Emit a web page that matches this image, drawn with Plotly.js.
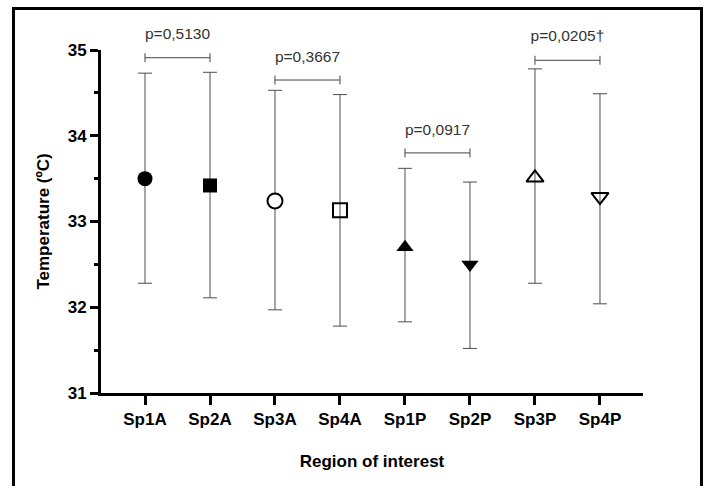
<!DOCTYPE html>
<html>
<head>
<meta charset="utf-8">
<script src="https://cdn.plot.ly/plotly-3.0.1.min.js"></script>
<style>
  html, body { margin: 0; padding: 0; background: #fff; }
  #wrap { position: relative; width: 705px; height: 486px; overflow: hidden; }
  #chart { position: absolute; left: 0; top: 0; width: 705px; height: 486px; }
  #frame { position: absolute; left: 12px; top: 7px; width: 685px; height: 520px;
           border: 3px solid #000; pointer-events: none; box-sizing: content-box; }
</style>
</head>
<body>
<div id="wrap">
  <div id="chart"></div>
  <div id="frame"></div>
</div>
<script>
// ---- data ----
const categories = ['Sp1A', 'Sp2A', 'Sp3A', 'Sp4A', 'Sp1P', 'Sp2P', 'Sp3P', 'Sp4P'];
const means      = [33.50, 33.42, 33.24, 33.13, 32.70, 32.50, 33.51, 33.29];
const upperLimit = [34.73, 34.74, 34.53, 34.48, 33.62, 33.46, 34.78, 34.49];
const lowerLimit = [32.28, 32.11, 31.97, 31.78, 31.83, 31.52, 32.28, 32.04];

// comparisons (pairs of category indices), bracket levels and p-value labels
const compFrom   = [0, 2, 4, 6];
const compTo     = [1, 3, 5, 7];
const compLevel  = [34.91, 34.65, 33.80, 34.88];
const compTextY  = [35.17, 34.91, 34.05, 35.15];
const compLabels = ['p=0,5130', 'p=0,3667', 'p=0,0917', 'p=0,0205†'];

const yTicks = [31, 32, 33, 34, 35];
const yMin = 31, yMax = 35;

// ---- layout geometry ----
const W = 705, H = 486;
const M = { l: 101, r: 62, t: 20, b: 93 };
const axisTopPx = 50;                       // pixel row of the top of the value axis
const plotH = H - M.t - M.b;                // full subplot height
const axisH = H - M.b - axisTopPx;          // height of the visible value axis
const domTop = axisH / plotH;
const y2Max = yMin + (yMax - yMin) / domTop; // same scale, extended upward for labels

// ---- styles ----
const symbols   = ['circle', 'square', 'circle', 'square-open', 'triangle-up', 'triangle-down', 'triangle-up-open', 'triangle-down-open'];
const fills     = ['#000', '#000', '#fff', '#000', '#000', '#000', '#000', '#000'];
const sizes     = [15, 14, 15, 14, 15, 15, 15, 15];
const lineWs    = [0, 0, 2, 2, 0, 0, 2, 2];

const xIdx = categories.map((c, i) => i);
const txtFont = { family: 'Liberation Sans, Arial, sans-serif', size: 15.5, color: '#333' };

const pointsTrace = {
  type: 'scatter', mode: 'markers', cliponaxis: false,
  x: xIdx, y: means, xaxis: 'x', yaxis: 'y',
  marker: { symbol: symbols, color: fills, size: sizes, opacity: 1, line: { color: '#000', width: lineWs } },
  error_y: {
    type: 'data', symmetric: false,
    array: means.map((m, i) => upperLimit[i] - m),
    arrayminus: means.map((m, i) => m - lowerLimit[i]),
    color: '#4d4d4d', thickness: 1, width: 7
  },
  hoverinfo: 'skip', showlegend: false
};

const bracketTrace = {
  type: 'scatter', mode: 'markers', cliponaxis: false,
  x: compFrom.map((a, i) => (a + compTo[i]) / 2),
  y: compLevel, xaxis: 'x', yaxis: 'y2',
  marker: { size: 1, color: 'rgba(0,0,0,0)' },
  error_x: {
    type: 'data', symmetric: true,
    array: compFrom.map((a, i) => (compTo[i] - a) / 2),
    color: '#444', thickness: 1, width: 4.5
  },
  hoverinfo: 'skip', showlegend: false
};

const labelTrace = {
  type: 'scatter', mode: 'text', cliponaxis: false,
  x: compFrom.map((a, i) => (a + compTo[i]) / 2),
  y: compTextY, xaxis: 'x', yaxis: 'y2',
  text: compLabels, textposition: 'middle center', textfont: txtFont,
  hoverinfo: 'skip', showlegend: false
};

const boldFont = { family: 'Liberation Sans, Arial, sans-serif', size: 17, color: '#000', weight: 'bold' };

const layout = {
  width: W, height: H,
  margin: M,
  paper_bgcolor: 'rgba(0,0,0,0)', plot_bgcolor: 'rgba(0,0,0,0)',
  showlegend: false,
  xaxis: {
    range: [-0.677, 7.662], tickmode: 'array', tickvals: xIdx, ticktext: categories,
    anchor: 'y',
    showline: true, linecolor: '#000', linewidth: 3,
    ticks: 'outside', ticklen: 9, tickwidth: 3, tickcolor: '#000',
    showgrid: false, zeroline: false, tickfont: boldFont,
    title: { text: 'Region of interest', font: boldFont, standoff: 27 },
    fixedrange: true
  },
  yaxis: {
    range: [yMin, yMax], domain: [0, domTop], anchor: 'x',
    tickmode: 'array', tickvals: yTicks, ticktext: yTicks.map(String),
    showline: true, linecolor: '#000', linewidth: 3,
    ticks: 'outside', ticklen: 8, tickwidth: 3, tickcolor: '#000',
    minor: { dtick: 0.5, ticks: 'outside', ticklen: 4, tickwidth: 3, tickcolor: '#000', showgrid: false },
    showgrid: false, zeroline: false, tickfont: boldFont,
    title: { text: 'Temperature (ºC)', font: boldFont, standoff: 14 },
    fixedrange: true
  },
  yaxis2: {
    range: [yMin, y2Max], domain: [0, 1], anchor: 'x',
    visible: false, showgrid: false, zeroline: false, fixedrange: true
  }
};

Plotly.newPlot('chart', [pointsTrace, bracketTrace, labelTrace], layout, { staticPlot: true, displayModeBar: false });
</script>
</body>
</html>
